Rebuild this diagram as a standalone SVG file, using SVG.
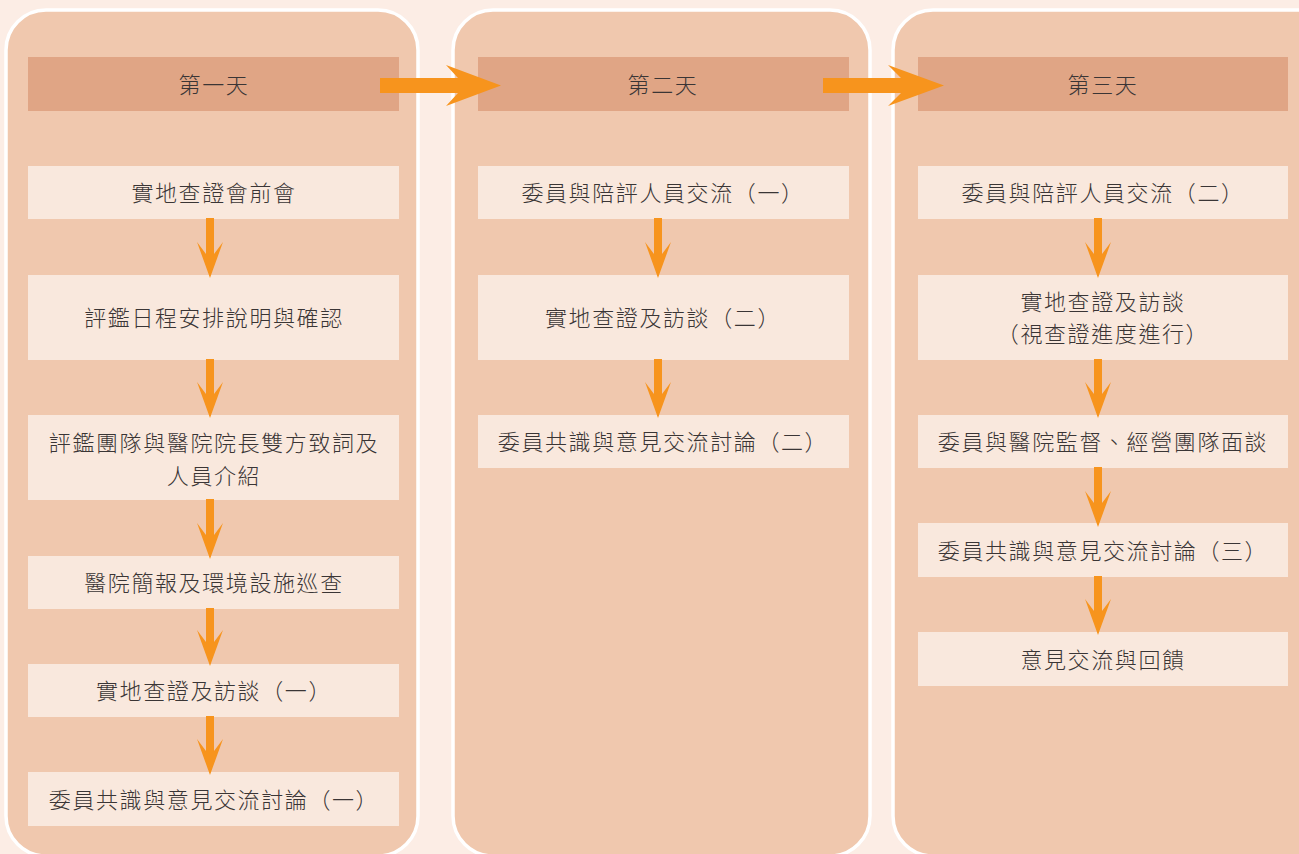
<svg xmlns="http://www.w3.org/2000/svg" width="1299" height="854" viewBox="0 0 1299 854">
<style>
.panel{fill:#F0C8AE;stroke:#FFFFFF;stroke-width:3.5}
.hdr{fill:#E0A585}
.box{fill:#F9E8DD}
.t{font-family:"Noto Sans CJK TC","Noto Sans CJK SC",sans-serif;font-size:22px;font-weight:300;fill:#3a3535;text-anchor:middle;dominant-baseline:central;letter-spacing:1.6px}
.arr{fill:#F7941D}
</style>
<rect x="0" y="0" width="1299" height="854" fill="#FCEDE5"/>
<g id="panels">
<rect class="panel" x="6" y="10" width="412" height="846" rx="40"/>
<rect class="panel" x="453" y="10" width="417" height="846" rx="40"/>
<rect class="panel" x="893" y="10" width="450" height="846" rx="40"/>
</g>
<g id="day1"><rect class="hdr" x="28" y="57" width="371" height="54"/><text class="t" x="214" y="83">第一天</text></g>
<g id="day2"><rect class="hdr" x="478" y="57" width="371" height="54"/><text class="t" x="663" y="83">第二天</text></g>
<g id="day3"><rect class="hdr" x="918" y="57" width="370" height="54"/><text class="t" x="1103" y="83">第三天</text></g>

<g id="d1n1"><rect class="box" x="28" y="166" width="371" height="53"/><text class="t" x="214" y="191">實地查證會前會</text></g>
<g id="d1n2"><rect class="box" x="28" y="275" width="371" height="85"/><text class="t" x="214" y="316">評鑑日程安排說明與確認</text></g>
<g id="d1n3"><rect class="box" x="28" y="415" width="371" height="85"/><text class="t" x="214" y="441">評鑑團隊與醫院院長雙方致詞及</text><text class="t" x="214" y="474">人員介紹</text></g>
<g id="d1n4"><rect class="box" x="28" y="556" width="371" height="53"/><text class="t" x="214" y="581">醫院簡報及環境設施巡查</text></g>
<g id="d1n5"><rect class="box" x="28" y="664" width="371" height="53"/><text class="t" x="214" y="689">實地查證及訪談（一）</text></g>
<g id="d1n6"><rect class="box" x="28" y="772" width="371" height="54"/><text class="t" x="214" y="798">委員共識與意見交流討論（一）</text></g>

<g id="d2n1"><rect class="box" x="478" y="166" width="371" height="53"/><text class="t" x="663" y="191">委員與陪評人員交流（一）</text></g>
<g id="d2n2"><rect class="box" x="478" y="275" width="371" height="85"/><text class="t" x="663" y="316">實地查證及訪談（二）</text></g>
<g id="d2n3"><rect class="box" x="478" y="415" width="371" height="53"/><text class="t" x="663" y="440">委員共識與意見交流討論（二）</text></g>

<g id="d3n1"><rect class="box" x="918" y="166" width="370" height="53"/><text class="t" x="1103" y="191">委員與陪評人員交流（二）</text></g>
<g id="d3n2"><rect class="box" x="918" y="275" width="370" height="85"/><text class="t" x="1103" y="300">實地查證及訪談</text><text class="t" x="1103" y="332">（視查證進度進行）</text></g>
<g id="d3n3"><rect class="box" x="918" y="415" width="370" height="53"/><text class="t" x="1103" y="440">委員與醫院監督、經營團隊面談</text></g>
<g id="d3n4"><rect class="box" x="918" y="523" width="370" height="54"/><text class="t" x="1103" y="549">委員共識與意見交流討論（三）</text></g>
<g id="d3n5"><rect class="box" x="918" y="632" width="370" height="54"/><text class="t" x="1103" y="658">意見交流與回饋</text></g>

<g id="connectors">
<polygon class="arr" points="380,78 458,78 446,65 501,85.5 446,106 458,93 380,93"/>
<polygon class="arr" points="823,78 901,78 888,65 944,85.5 888,106 901,93 823,93"/>
<polygon class="arr" points="206,218 214,218 214,254 223,242 210,278 197,242 206,254"/>
<polygon class="arr" points="206,359 214,359 214,394 223,382 210,418 197,382 206,394"/>
<polygon class="arr" points="206,499 214,499 214,535 223,523 210,559 197,523 206,535"/>
<polygon class="arr" points="206,608 214,608 214,642 223,630 210,666 197,630 206,642"/>
<polygon class="arr" points="206,716 214,716 214,751 223,739 210,775 197,739 206,751"/>
<polygon class="arr" points="654,218 662,218 662,254 671,242 658,278 645,242 654,254"/>
<polygon class="arr" points="654,359 662,359 662,394 671,382 658,418 645,382 654,394"/>
<polygon class="arr" points="1094,218 1102,218 1102,254 1111,242 1098,278 1085,242 1094,254"/>
<polygon class="arr" points="1094,359 1102,359 1102,394 1111,382 1098,418 1085,382 1094,394"/>
<polygon class="arr" points="1094,467 1102,467 1102,503 1111,491 1098,527 1085,491 1094,503"/>
<polygon class="arr" points="1094,576 1102,576 1102,611 1111,599 1098,635 1085,599 1094,611"/>
</g>
</svg>
